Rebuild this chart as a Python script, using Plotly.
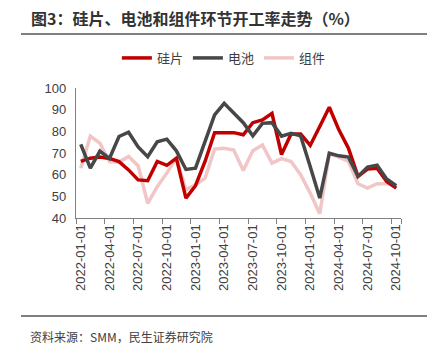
import plotly.graph_objects as go

months = [f"{y}-{m:02d}-01" for y in (2022, 2023, 2024) for m in range(1, 13)][:34]

silicon = [66.1, 67.6, 68.2, 67.5, 66.0, 62.2, 57.6, 57.2, 66.1, 64.3, 67.6, 49.2,
           54.9, 66.1, 79.4, 79.4, 79.4, 78.4, 84.0, 85.3, 88.3, 69.3, 78.8, 78.8,
           73.5, 82.2, 91.1, 80.7, 72.2, 59.2, 62.6, 63.0, 56.9, 53.8]
cell = [74.0, 63.0, 70.9, 67.5, 77.6, 79.6, 72.8, 68.3, 75.2, 76.4, 71.0, 62.4,
        63.0, 75.3, 87.6, 92.9, 88.6, 84.0, 77.9, 83.7, 84.0, 77.8, 79.1, 77.9,
        63.8, 49.2, 69.9, 68.7, 68.1, 59.2, 63.5, 64.4, 58.0, 54.9]
module = [63.0, 77.8, 74.5, 66.1, 65.8, 68.4, 64.1, 46.8, 54.5, 60.7, 67.8, 53.0,
          55.3, 58.4, 71.8, 72.2, 71.4, 61.9, 71.0, 73.7, 65.3, 67.4, 66.1, 60.0,
          51.5, 42.0, 69.6, 68.1, 66.1, 55.8, 53.8, 55.8, 55.8, 54.9]

series_names = ["硅片", "电池", "组件"]
tick_labels = months[::3]

FONT = "Liberation Sans, Noto Sans CJK SC, sans-serif"
CJK = "Noto Sans CJK SC, sans-serif"

W, H = 438, 355

fig = go.Figure()
fig.add_trace(go.Scatter(x=months, y=module, mode="lines", name=series_names[2],
                         line=dict(color="#F0C6C6", width=3.5), legendrank=3))
fig.add_trace(go.Scatter(x=months, y=silicon, mode="lines", name=series_names[0],
                         line=dict(color="#C00000", width=3.5), legendrank=1))
fig.add_trace(go.Scatter(x=months, y=cell, mode="lines", name=series_names[1],
                         line=dict(color="#474747", width=3.5), legendrank=2))

fig.update_layout(
    width=W, height=H,
    margin=dict(l=76, r=37, t=88, b=137, pad=0),
    paper_bgcolor="white", plot_bgcolor="white",
    hovermode=False,
    font=dict(family=FONT, size=13, color="#404040"),
    title=dict(text="<b>图3：硅片、电池和组件环节开工率走势（%）</b>",
               x=31 / W, xanchor="left", xref="container",
               y=1 - 19.5 / H, yanchor="middle", yref="container",
               font=dict(family=CJK, size=16, color="#333333")),
    legend=dict(orientation="h", x=0.455, xanchor="center", y=1.231, yanchor="middle",
                font=dict(family=CJK, size=13, color="#404040"),
                bgcolor="rgba(0,0,0,0)", traceorder="normal"),
    xaxis=dict(type="category", range=[-0.5, 33.5], tickmode="array",
               tickvals=tick_labels, ticktext=tick_labels, tickangle=-90,
               tickson="boundaries", ticks="outside", ticklen=5, tickcolor="#808080",
               showline=True, linecolor="#808080", linewidth=1.2, showgrid=False,
               tickfont=dict(size=13, color="#404040")),
    yaxis=dict(range=[40, 100], dtick=10, tick0=40, showgrid=False, zeroline=False,
               showline=True, linecolor="#808080", linewidth=1.2, ticks="",
               ticklabelstandoff=6, tickfont=dict(size=13, color="#404040")),
    showlegend=True,
)

def px_x(p):
    return (p - 76) / 325.0

def px_y(p):
    return (218 - p) / 130.0

fig.add_shape(type="line", xref="paper", yref="paper",
              x0=px_x(21), x1=px_x(427), y0=px_y(34), y1=px_y(34),
              line=dict(color="#555555", width=1.5))
fig.add_shape(type="line", xref="paper", yref="paper",
              x0=px_x(21), x1=px_x(427), y0=px_y(316), y1=px_y(316),
              line=dict(color="#555555", width=1.5))
fig.add_annotation(text="资料来源：SMM，民生证券研究院", xref="paper", yref="paper",
                   x=px_x(28), y=px_y(336), xanchor="left", yanchor="middle",
                   showarrow=False,
                   font=dict(family=CJK, size=12, color="#404040"))

fig.write_html("out.html",
               config={"displayModeBar": False, "staticPlot": True},
               post_script="document.body.style.margin='0px';document.body.style.padding='0px';")
